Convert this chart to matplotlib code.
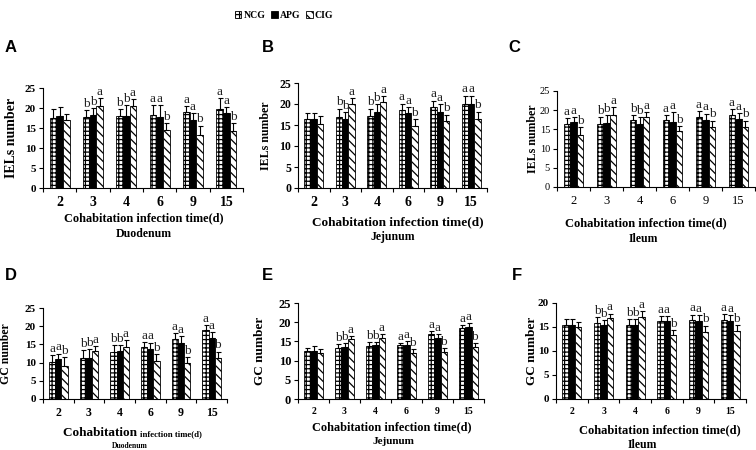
import matplotlib
matplotlib.use("Agg")
import matplotlib.pyplot as plt
import numpy as np

# ===== DATA =====
days = ["2", "3", "4", "6", "9", "15"]
groups = ["NCG", "APG", "CIG"]

# IELs number, duodenum / jejunum / ileum  -> [NCG, APG, CIG]
iel_duo = [[17.5, 17.8, 17.9, 18.3, 18.9, 19.8],
           [18.1, 18.3, 17.9, 17.7, 17.1, 18.8],
           [17.1, 20.6, 20.6, 14.6, 13.3, 14.3]]
iel_duo_err = [[2.2, 1.6, 1.9, 2.4, 1.5, 2.7],
               [2.1, 1.6, 2.8, 3.1, 1.7, 1.5],
               [1.4, 1.9, 1.7, 1.7, 2.3, 1.9]]
iel_duo_sig = ["", "bba", "bba", "aab", "aab", "aab"]

iel_jej = [[16.4, 16.8, 17.2, 18.5, 19.2, 20.1],
           [16.4, 16.4, 18.2, 17.9, 18.2, 20.1],
           [15.2, 20.1, 20.4, 14.7, 15.9, 16.4]]
iel_jej_err = [[1.4, 2.1, 1.7, 1.6, 1.6, 1.9],
               [1.4, 1.6, 1.8, 1.3, 1.8, 1.9],
               [2.0, 1.3, 1.4, 1.7, 1.6, 1.8]]
iel_jej_sig = ["", "bba", "bba", "aab", "aab", "aab"]

iel_ile = [[16.3, 16.5, 17.4, 17.4, 18.1, 18.7],
           [17.0, 16.7, 16.5, 16.8, 17.4, 17.6],
           [13.5, 18.7, 18.1, 14.5, 15.6, 15.6]]
iel_ile_err = [[1.7, 1.7, 1.3, 1.3, 1.7, 1.5],
               [1.3, 2.0, 1.6, 2.8, 1.7, 1.7],
               [2.0, 2.2, 1.5, 1.3, 1.7, 1.7]]
iel_ile_sig = ["aab", "bba", "bba", "aab", "aab", "aab"]

# GC number
gc_duo = [[10.3, 11.4, 13.0, 14.4, 16.6, 18.9],
          [11.0, 11.4, 13.2, 13.7, 15.3, 16.8],
          [9.1, 13.3, 14.4, 10.5, 9.8, 11.2]]
gc_duo_err = [[1.8, 2.0, 1.8, 1.3, 1.4, 1.4],
              [1.5, 2.4, 1.6, 1.8, 2.0, 1.6],
              [2.5, 1.2, 1.8, 1.9, 1.8, 1.8]]
gc_duo_sig = ["aab", "bba", "bba", "aab", "aab", "aab"]

gc_jej = [[12.6, 13.4, 13.8, 14.0, 16.8, 18.4],
          [12.6, 13.6, 14.0, 14.0, 15.9, 18.8],
          [11.9, 15.5, 16.0, 11.9, 12.3, 13.6]]
gc_jej_err = [[0.8, 0.8, 1.0, 0.6, 0.9, 0.8],
              [1.2, 1.0, 0.9, 1.0, 0.9, 1.0],
              [1.0, 0.9, 1.0, 1.0, 1.0, 0.9]]
gc_jej_sig = ["", "bba", "bba", "aab", "aab", "aab"]

gc_ile = [[15.5, 15.9, 15.5, 16.2, 16.4, 16.4],
          [15.5, 15.5, 15.4, 16.2, 16.2, 16.2],
          [15.0, 16.9, 17.0, 13.3, 14.0, 14.1]]
gc_ile_err = [[1.1, 1.1, 1.2, 1.0, 1.2, 1.3],
              [1.2, 1.0, 1.2, 1.0, 1.2, 1.2],
              [1.0, 0.9, 1.3, 1.0, 1.3, 1.3]]
gc_ile_sig = ["", "bba", "bba", "aab", "aab", "aab"]

# ===== STYLE =====
plt.rcParams["hatch.linewidth"] = 0.9
SERIF = "Liberation Serif"
W, H = 756, 450


def px(x, y):
    return x / W, 1 - y / H


hatches = ["++++", None, "\\\\\\\\"]
faces = ["white", "black", "white"]

panels = [
    dict(tag="A", d=iel_duo, e=iel_duo_err, s=iel_duo_sig, r=(43, 243, 88, 188), ymax=25,
         ylab="IELs number", bold=True, tag_xy=(11, 47), ylab_x=12, ylab_fs=10,
         xlab_xy=(144, 218), xl_fs=8.8, xt_fs=10, yt_fs=8,
         sub="Duodenum", sub_xy=(144, 234), sub_fs=8.5),
    dict(tag="B", d=iel_jej, e=iel_jej_err, s=iel_jej_sig, r=(298, 487, 83, 188), ymax=25,
         ylab="IELs number", bold=True, tag_xy=(268, 47), ylab_x=266, ylab_fs=8.6,
         xlab_xy=(398, 222), xl_fs=9.5, xt_fs=10, yt_fs=8.5,
         sub="Jejunum", sub_xy=(393, 237), sub_fs=8.5),
    dict(tag="C", d=iel_ile, e=iel_ile_err, s=iel_ile_sig, r=(557, 755, 91, 187), ymax=25,
         ylab="IELs number", bold=False, tag_xy=(514, 47), ylab_x=533, ylab_fs=8.6,
         xlab_xy=(646, 223), xl_fs=9.0, xt_fs=9, yt_fs=7.5,
         sub="Ileum", sub_xy=(643, 239), sub_fs=8.5),
    dict(tag="D", d=gc_duo, e=gc_duo_err, s=gc_duo_sig, r=(43, 227, 308, 399), ymax=25,
         ylab="GC number", bold=True, tag_xy=(11, 276), ylab_x=6, ylab_fs=8.5,
         xlab_xy=(140, 433), xl_fs=9.5, xt_fs=8.5, yt_fs=8,
         sub="Duodenum", sub_xy=(130, 446), sub_fs=5.5),
    dict(tag="E", d=gc_jej, e=gc_jej_err, s=gc_jej_sig, r=(298, 484, 303, 399), ymax=25,
         ylab="GC number", bold=True, tag_xy=(267, 276), ylab_x=260, ylab_fs=9.5,
         xlab_xy=(392, 427), xl_fs=8.8, xt_fs=7, yt_fs=9,
         sub="Jejunum", sub_xy=(393, 442), sub_fs=8),
    dict(tag="F", d=gc_ile, e=gc_ile_err, s=gc_ile_sig, r=(556, 746, 303, 399), ymax=20,
         ylab="GC number", bold=True, tag_xy=(517, 276), ylab_x=532, ylab_fs=9.5,
         xlab_xy=(660, 430), xl_fs=9.0, xt_fs=7, yt_fs=8,
         sub="Ileum", sub_xy=(642, 445), sub_fs=8.5),
]

fig = plt.figure(figsize=(7.56, 4.5), dpi=100)
x = np.arange(len(days))
bw = 0.2
handles = []

for p in panels:
    x0, x1, yt, yb = p["r"]
    ax = fig.add_axes([x0 / W, 1 - yb / H, (x1 - x0) / W, (yb - yt) / H])
    for k in range(3):
        pos = x + (k - 1) * bw
        vals = np.array(p["d"][k])
        errs = np.array(p["e"][k])
        b = ax.bar(pos, vals, bw, color=faces[k], edgecolor="black",
                   hatch=hatches[k], linewidth=0.6, label=groups[k], zorder=2)
        ax.errorbar(pos, vals, yerr=[np.zeros_like(errs), errs], fmt="none",
                    ecolor="black", elinewidth=0.8, capsize=1.8, capthick=0.8, zorder=3)
        for i, sig in enumerate(p["s"]):
            if sig:
                ax.text(pos[i], vals[i] + errs[i] + 0.05, sig[k], ha="center", va="bottom",
                        fontsize=9.5, family=SERIF, color="#222222")
        if p["tag"] == "A":
            handles.append(b)

    ax.set_xlim(-0.5, len(days) - 0.5)
    ax.set_ylim(0, p["ymax"])
    ax.set_yticks(np.arange(0, p["ymax"] + 1, 5))
    ax.set_xticks(x)
    ax.set_xticklabels(days)
    ax.set_xticks(np.arange(-0.5, len(days), 1), minor=True)
    ax.tick_params(axis="x", which="major", length=0, pad=6)
    ax.tick_params(axis="x", which="minor", length=3, direction="out", width=0.8)
    ax.tick_params(axis="y", length=3, direction="out", width=0.8, pad=2)
    wt = "bold" if p["bold"] else "normal"
    for lab in ax.get_xticklabels():
        lab.set_fontfamily(SERIF)
        lab.set_fontweight(wt)
        lab.set_fontsize(p["xt_fs"])
    for lab in ax.get_yticklabels():
        lab.set_fontfamily(SERIF)
        lab.set_fontweight(wt)
        lab.set_fontsize(p["yt_fs"])
    for sp in ["top", "right"]:
        ax.spines[sp].set_visible(False)
    for sp in ["left", "bottom"]:
        ax.spines[sp].set_linewidth(0.8)

    # panel letter, axis titles, segment name
    fig.text(*px(*p["tag_xy"]), p["tag"], fontsize=12, fontweight="bold",
             family="Liberation Sans", ha="center", va="center")
    fig.text(*px(p["ylab_x"], (yt + yb) / 2), p["ylab"], rotation=90, ha="center",
             va="center", fontsize=p["ylab_fs"], fontweight="bold", family=SERIF)
    xl, yl = p["xlab_xy"]
    if p["tag"] == "D":
        fig.text(*px(xl, yl), "Cohabitation ", ha="right", va="center",
                 fontsize=p["xl_fs"], fontweight="bold", family=SERIF)
        fig.text(*px(xl, yl + 1), "infection time(d)", ha="left", va="center",
                 fontsize=6.3, fontweight="bold", family=SERIF)
    else:
        fig.text(*px(xl, yl), "Cohabitation infection time(d)", ha="center",
                 va="center", fontsize=p["xl_fs"], fontweight="bold", family=SERIF)
    fig.text(*px(*p["sub_xy"]), p["sub"], ha="center", va="center",
             fontsize=p["sub_fs"], fontweight="bold", family=SERIF)

fig.legend(handles=handles, labels=groups, loc="center", bbox_to_anchor=px(284, 15),
           ncol=3, frameon=False, prop=dict(family=SERIF, weight="bold", size=7),
           handlelength=0.7, handleheight=0.7, handletextpad=0.2, columnspacing=0.6)

fig.savefig("out.png", dpi=100)
